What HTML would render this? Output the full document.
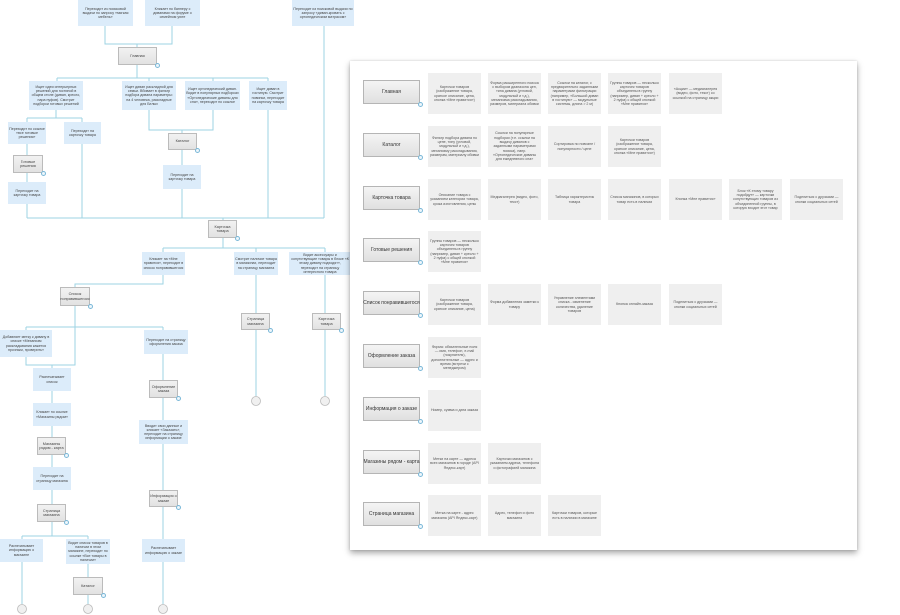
<!DOCTYPE html>
<html><head><meta charset="utf-8">
<style>
body{margin:0;width:900px;height:615px;overflow:hidden;background:#fff;font-family:"Liberation Sans",sans-serif;position:relative}
.b{position:absolute;background:#dcecfa;color:#444;font-size:3.6px;line-height:4.2px;text-align:center;display:flex;align-items:center;justify-content:center;overflow:hidden;box-sizing:border-box;padding:1px}
.g{position:absolute;background:linear-gradient(#f2f2f2,#e2e2e2);border:1px solid #bbb;color:#444;font-size:3.8px;line-height:4.4px;text-align:center;display:flex;align-items:center;justify-content:center;box-sizing:border-box}
.g::after{content:"";position:absolute;right:-4px;bottom:-4px;width:5px;height:5px;border-radius:50%;border:1px solid #7ab8d8;background:#eef6fb;box-sizing:border-box}
.c{position:absolute;background:#efefef;color:#555;font-size:3.6px;line-height:4.3px;text-align:center;display:flex;align-items:center;justify-content:center;box-sizing:border-box;padding:2px;width:53px;height:41px}
.l{position:absolute;left:363px;width:57px;height:24px;background:linear-gradient(#f4f4f4,#e0e0e0);border:1px solid #b5b5b5;font-size:5px;color:#333;display:flex;align-items:center;justify-content:center;box-sizing:border-box;white-space:nowrap}
.l::after{content:"";position:absolute;right:-4px;bottom:-4px;width:5px;height:5px;border-radius:50%;border:1px solid #7ab8d8;background:#eef6fb;box-sizing:border-box}
#panel{position:absolute;left:350px;top:61px;width:507px;height:489px;background:#fff;box-shadow:0 3px 6px rgba(0,0,0,.35),0 0 2px rgba(0,0,0,.15)}
</style></head><body>
<svg width="900" height="615" style="position:absolute;left:0;top:0" fill="none" stroke="#9ed3e3" stroke-width="1">
<path d="M105 26V44H172V26M137 44V47M137 65V78M57 78H268M57 78V81M149 78V81M213 78V81M268 78V81"/>
<path d="M56 110V118M27 118H82M27 118V122M82 118V122M27 144V155M27 172V182M27 204V218"/>
<path d="M149 110V130H213V110M182 130V133M182 150V165M182 189V218M82 144V218M268 110V218M324 26V218M27 218H324M223 218V220M223 238V248"/>
<path d="M163 248H325M163 248V252M256 248V252M325 248V252M163 275V284H75V287M75 306V327M26 327H163M26 327V330M163 327V330"/>
<path d="M26 357V365H75V327M52 365V368M52 391V403M52 426V437M52 455V467M52 490V504M52 522V536M22 536H88M22 536V539M88 536V539M22 562V604M88 564V577M88 595V604"/>
<path d="M163 354V380M163 398V420M163 444V490M163 507V539M163 562V604M256 275V313M256 330V396M325 275V313M325 330V396"/>
</svg>
<svg width="900" height="615" style="position:absolute;left:0;top:0" fill="#f0f0f0" stroke="#bbb" stroke-width="0.8">
<circle cx="22" cy="609" r="4.5"/><circle cx="88" cy="609" r="4.5"/><circle cx="163" cy="609" r="4.5"/><circle cx="256" cy="401" r="4.5"/><circle cx="325" cy="401" r="4.5"/>
</svg>

<div class="b" style="left:78px;top:0;width:55px;height:26px">Переходит из поисковой выдачи по запросу «мягкая мебель»</div>
<div class="b" style="left:145px;top:0;width:55px;height:26px">Кликает по баннеру с диванами на форуме о семейном уюте</div>
<div class="b" style="left:292px;top:0;width:62px;height:26px">Переходит из поисковой выдачи по запросу «диван-кровать с ортопедическим матрасом»</div>
<div class="g" style="left:118px;top:47px;width:39px;height:18px">Главная</div>
<div class="b" style="left:29px;top:81px;width:54px;height:29px">Ищет идеи интерьерных решений для гостиной в общем стиле (диван, кресло, пара пуфов). Смотрит подборки готовых решений</div>
<div class="b" style="left:122px;top:81px;width:54px;height:29px">Ищет диван раскладной для семьи. Вбивает в фильтр подбора дивана параметры: на 4 человека, раскладные для Белых</div>
<div class="b" style="left:185px;top:81px;width:55px;height:29px">Ищет ортопедический диван. Видит в популярных подборках «Ортопедические диваны для сна», переходит по ссылке</div>
<div class="b" style="left:249px;top:81px;width:38px;height:29px">Ищет диван в гостиную. Смотрит новинки, переходит на карточку товара</div>
<div class="b" style="left:8px;top:122px;width:38px;height:22px">Переходит по ссылке «все готовые решения»</div>
<div class="b" style="left:64px;top:122px;width:37px;height:22px">Переходит на карточку товара</div>
<div class="g" style="left:13px;top:155px;width:30px;height:18px">Готовые решения</div>
<div class="b" style="left:8px;top:182px;width:38px;height:22px">Переходит на карточку товара</div>
<div class="g" style="left:168px;top:133px;width:29px;height:17px">Каталог</div>
<div class="b" style="left:163px;top:165px;width:38px;height:24px">Переходит на карточку товара</div>
<div class="g" style="left:208px;top:220px;width:29px;height:18px">Карточка товара</div>
<div class="b" style="left:142px;top:252px;width:43px;height:23px">Кликает на «Мне нравится», переходит в список понравившегося</div>
<div class="b" style="left:234px;top:252px;width:44px;height:23px">Смотрит наличие товара в магазинах, переходит на страницу магазина</div>
<div class="b" style="left:289px;top:252px;width:62px;height:23px">Видит аксессуары и сопутствующие товары в блоке «К этому дивану подходят», переходит на страницу интересного товара</div>
<div class="g" style="left:60px;top:287px;width:30px;height:19px">Список понравившегося</div>
<div class="b" style="left:0;top:330px;width:52px;height:27px">Добавляет метку к дивану в списке «Механизм раскладывания кажется прочным, проверить»</div>
<div class="b" style="left:144px;top:330px;width:44px;height:24px">Переходит на страницу оформления заказа</div>
<div class="b" style="left:33px;top:368px;width:38px;height:23px">Распечатывает список</div>
<div class="b" style="left:33px;top:403px;width:38px;height:23px">Кликает по ссылке «Магазины рядом»</div>
<div class="g" style="left:37px;top:437px;width:29px;height:18px">Магазины рядом - карта</div>
<div class="b" style="left:33px;top:467px;width:38px;height:23px">Переходит на страницу магазина</div>
<div class="g" style="left:37px;top:504px;width:29px;height:18px">Страница магазина</div>
<div class="b" style="left:0;top:539px;width:43px;height:23px">Распечатывает информацию о магазине</div>
<div class="b" style="left:66px;top:539px;width:44px;height:25px">Видит список товаров в наличии в этом магазине, переходит по ссылке «Все товары в наличии»</div>
<div class="g" style="left:73px;top:577px;width:30px;height:18px">Каталог</div>
<div class="g" style="left:149px;top:380px;width:29px;height:18px">Оформление заказа</div>
<div class="b" style="left:139px;top:420px;width:49px;height:24px">Вводит свои данные и кликает «Заказать», переходит на страницу информации о заказе</div>
<div class="g" style="left:149px;top:490px;width:29px;height:17px">Информация о заказе</div>
<div class="b" style="left:142px;top:539px;width:43px;height:23px">Распечатывает информацию о заказе</div>
<div class="g" style="left:241px;top:313px;width:29px;height:17px">Страница магазина</div>
<div class="g" style="left:312px;top:313px;width:29px;height:17px">Карточка товара</div>

<div id="panel"></div>
<div class="l" style="top:80px">Главная</div>
<div class="c" style="left:428px;top:73px">Карточки товаров (изображение товара, краткое описание, цена, кнопка «Мне нравится»)</div>
<div class="c" style="left:488px;top:73px">Форма расширенного поиска с выбором диапазона цен, типа дивана (угловой, модульный и т.д.), механизма раскладывания, размеров, материала обивки</div>
<div class="c" style="left:548px;top:73px">Ссылки на каталог, с предварительно заданными параметрами фильтрации (например, «Большой диван в гостиную» — модульные системы, длина &gt; 2 м)</div>
<div class="c" style="left:608px;top:73px">Группы товаров — несколько карточек товаров объединены в группу (например, диван + кресло + 2 пуфа) с общей кнопкой «Мне нравится»</div>
<div class="c" style="left:669px;top:73px">«Акции» — медиагалерея (видео, фото, текст) со ссылкой на страницу акции</div>

<div class="l" style="top:133px">Каталог</div>
<div class="c" style="left:428px;top:126px">Фильтр подбора дивана по цене, типу (угловой, модульный и т.д.), механизму раскладывания, размерам, материалу обивки</div>
<div class="c" style="left:488px;top:126px">Ссылки на популярные подборки (т.е. ссылки на выдачу диванов с заданными параметрами поиска), напр. «Ортопедические диваны для ежедневного сна»</div>
<div class="c" style="left:548px;top:126px">Сортировка по новизне / популярности / цене</div>
<div class="c" style="left:608px;top:126px">Карточки товаров (изображение товара, краткое описание, цена, кнопка «Мне нравится»)</div>

<div class="l" style="top:186px">Карточка товара</div>
<div class="c" style="left:428px;top:179px">Описание товара с указанием категории товара, срока изготовления, цены</div>
<div class="c" style="left:488px;top:179px">Медиагалерея (видео, фото, текст)</div>
<div class="c" style="left:548px;top:179px">Таблица характеристик товара</div>
<div class="c" style="left:608px;top:179px">Список магазинов, в которых товар есть в наличии</div>
<div class="c" style="left:669px;top:179px">Кнопка «Мне нравится»</div>
<div class="c" style="left:729px;top:179px">Блок «К этому товару подойдут» — карточки сопутствующих товаров из объединенной группы, в которую входит этот товар</div>
<div class="c" style="left:790px;top:179px">Поделиться с друзьями — кнопки социальных сетей</div>

<div class="l" style="top:238px">Готовые решения</div>
<div class="c" style="left:428px;top:231px">Группы товаров — несколько карточек товаров объединены в группу (например, диван + кресло + 2 пуфа) с общей кнопкой «Мне нравится»</div>

<div class="l" style="top:291px">Список понравившегося</div>
<div class="c" style="left:428px;top:284px">Карточки товаров (изображение товара, краткое описание, цена)</div>
<div class="c" style="left:488px;top:284px">Форма добавления заметки к товару</div>
<div class="c" style="left:548px;top:284px">Управление элементами списка - изменение количества, удаление товаров</div>
<div class="c" style="left:608px;top:284px">Кнопка онлайн-заказа</div>
<div class="c" style="left:669px;top:284px">Поделиться с друзьями — кнопки социальных сетей</div>

<div class="l" style="top:344px">Оформление заказа</div>
<div class="c" style="left:428px;top:337px">Форма: обязательные поля — имя, телефон, e-mail (покупателя), дополнительные — адрес и время (встречи с менеджером)</div>

<div class="l" style="top:397px">Информация о заказе</div>
<div class="c" style="left:428px;top:390px">Номер, сумма и дата заказа</div>

<div class="l" style="top:450px">Магазины рядом - карта</div>
<div class="c" style="left:428px;top:443px">Метки на карте — адреса всех магазинов в городе (API Яндекс-карт)</div>
<div class="c" style="left:488px;top:443px">Карточки магазинов с указанием адреса, телефона и фотографией магазина</div>

<div class="l" style="top:502px">Страница магазина</div>
<div class="c" style="left:428px;top:495px">Метка на карте - адрес магазина (API Яндекс-карт)</div>
<div class="c" style="left:488px;top:495px">Адрес, телефон и фото магазина</div>
<div class="c" style="left:548px;top:495px">Карточки товаров, которые есть в наличии в магазине</div>
</body></html>
